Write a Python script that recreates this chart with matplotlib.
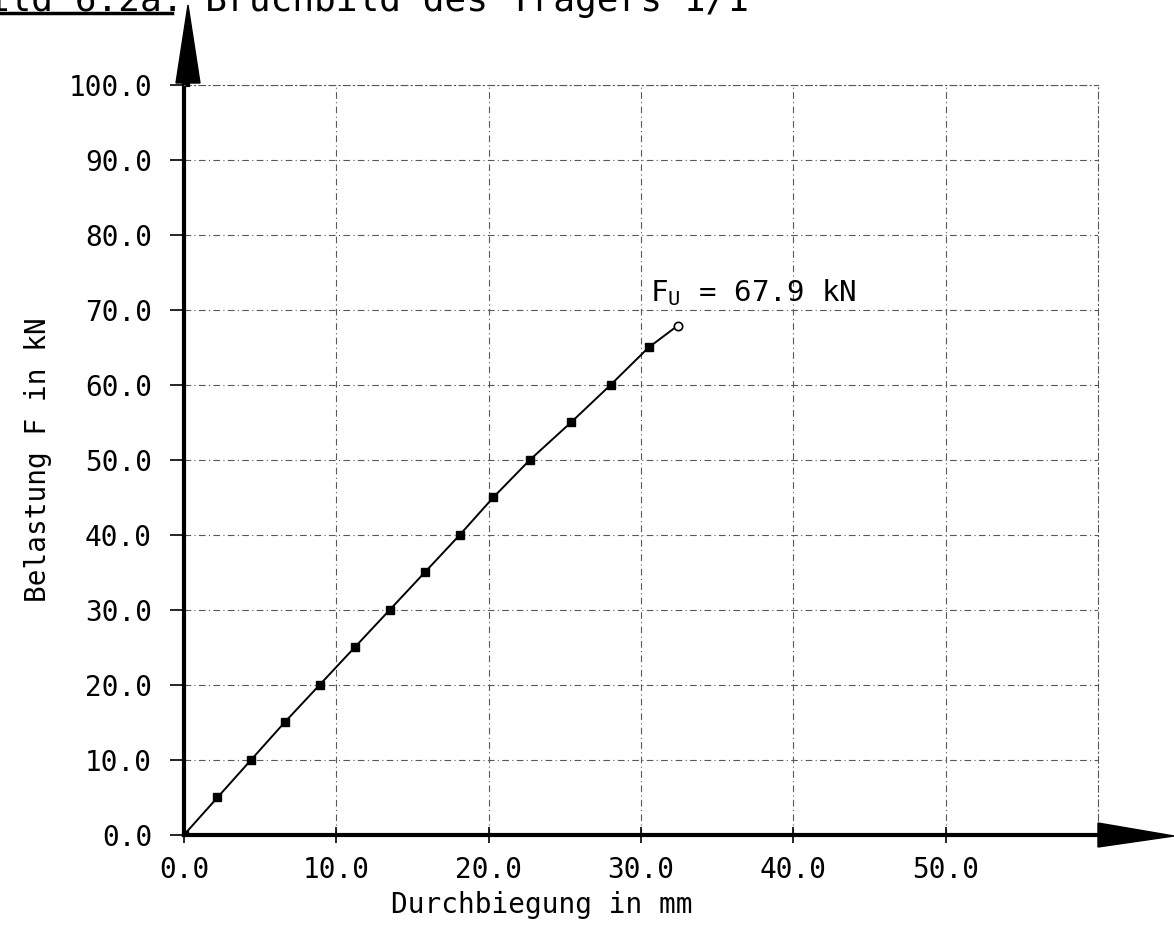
import numpy as np
import matplotlib
matplotlib.use("Agg")
import matplotlib.pyplot as plt
from matplotlib.patches import Polygon

# Messwerte: Durchbiegung (mm) und Belastung (kN)
durchbiegung = [0.0, 2.2, 4.4, 6.6, 8.9, 11.2, 13.5, 15.8, 18.1, 20.3, 22.7, 25.4, 28.0, 30.5, 32.4]
belastung = [0.0, 5.0, 10.0, 15.0, 20.0, 25.0, 30.0, 35.0, 40.0, 45.0, 50.0, 55.0, 60.0, 65.0, 67.9]
x_ticks = [0.0, 10.0, 20.0, 30.0, 40.0, 50.0]
y_ticks = [0.0, 10.0, 20.0, 30.0, 40.0, 50.0, 60.0, 70.0, 80.0, 90.0, 100.0]
F_u = 67.9

plt.rcParams['font.family'] = ['DejaVu Sans Mono']
plt.rcParams['mathtext.fontset'] = 'custom'
plt.rcParams['mathtext.rm'] = 'DejaVu Sans Mono'
plt.rcParams['mathtext.it'] = 'DejaVu Sans Mono'

fig = plt.figure(figsize=(11.74, 9.35), dpi=100)
ax = fig.add_axes([0.1567, 0.1070, 0.7786, 0.8021])

ax.plot(durchbiegung, belastung, c="k", lw=1.4)
ax.plot(durchbiegung[:-1], belastung[:-1], "s", c="k", ms=6)
ax.plot(durchbiegung[-1], belastung[-1], "o", mfc="w", mec="k", ms=6, mew=1.2)

ax.set_xlim(0, 60)
ax.set_ylim(0, 100)
ax.set_xticks(x_ticks)
ax.set_yticks(y_ticks)
ax.set_xticklabels(["%.1f" % v for v in x_ticks], fontsize=20)
ax.set_yticklabels(["%.1f" % v for v in y_ticks], fontsize=20)
ax.tick_params(axis="x", direction="inout", length=12, width=1.2, pad=9)
ax.tick_params(axis="y", direction="out", length=10, width=1.2, pad=13)

ax.grid(True, ls=(0, (6, 3, 1, 3)), lw=0.8, c="0.35")
for s in ["top", "right"]:
    ax.spines[s].set_linestyle((0, (6, 3, 1, 3)))
    ax.spines[s].set_linewidth(0.8)
    ax.spines[s].set_color("0.35")
for s in ["left", "bottom"]:
    ax.spines[s].set_linewidth(3)

ax.text(30.6, 71.2, r"F$_{\mathrm{U}}$ = %.1f kN" % F_u, fontsize=21)

ax.set_ylabel("Belastung F in kN", fontsize=20, labelpad=12)
fig.text(542 / 1174, 1 - 905 / 935, "Durchbiegung in mm", fontsize=20, ha="center", va="center")

# Achsenpfeile
fig.patches.append(Polygon([[176 / 1174, 1 - 83 / 935], [200 / 1174, 1 - 83 / 935], [188 / 1174, 1 - 5 / 935]],
                           closed=True, fc="k", ec="k", transform=fig.transFigure, figure=fig))
fig.patches.append(Polygon([[1098 / 1174, 1 - 823 / 935], [1098 / 1174, 1 - 847 / 935], [1174 / 1174, 1 - 836 / 935]],
                           closed=True, fc="k", ec="k", transform=fig.transFigure, figure=fig))
fig.lines.append(plt.Line2D([188 / 1174, 188 / 1174], [1 - 85 / 935, 1 - 40 / 935], c="k", lw=3,
                            transform=fig.transFigure, figure=fig))

# Bildunterschrift (oben angeschnitten)
fig.text(-34 / 1174, 1 - 11 / 935, "Bild 6.2a: Bruchbild des Trägers 1/1", fontsize=26, va="baseline")
fig.lines.append(plt.Line2D([0, 172 / 1174], [1 - 13 / 935, 1 - 13 / 935], c="k", lw=2.5,
                            transform=fig.transFigure, figure=fig))

fig.savefig("out.png", dpi=100)
